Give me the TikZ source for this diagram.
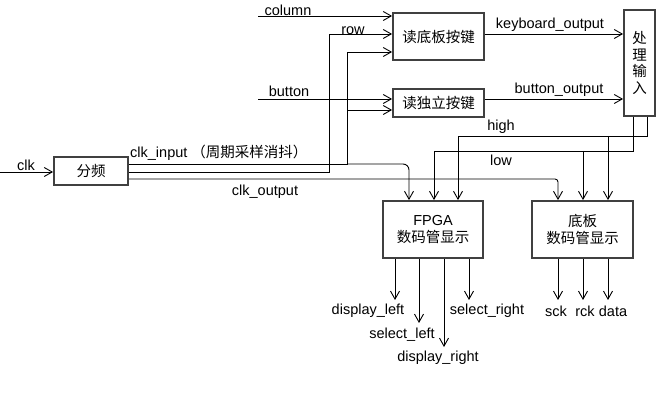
\documentclass[tikz,border=0pt]{standalone}
\usepackage{fontspec}
\setmainfont{Liberation Sans}
\newfontfamily\cjk{Noto Sans CJK SC}
\usetikzlibrary{arrows.meta}
\definecolor{boxc}{RGB}{64,64,64}
\begin{document}
\begin{tikzpicture}[x=1pt,y=-1pt,
  box/.style={draw=boxc, line width=1.8pt, fill=white, inner sep=0pt, align=center,
    font=\cjk\fontsize{14.5}{16.5}\selectfont},
  lbl/.style={inner sep=0pt, font=\fontsize{14.5}{16.5}\selectfont},
  wire/.style={line width=0.9pt, draw=black},
  arr/.style={wire, -{Straight Barb[length=8pt,width=9pt]}}]
\useasboundingbox (0,0) rectangle (658,419);

% boxes
\node[box, minimum width=74pt, minimum height=28pt] (fp) at (91,171) {分频};
\node[box, minimum width=91pt, minimum height=47pt] (kb) at (438.5,36.5) {读底板按键};
\node[box, minimum width=91pt, minimum height=28pt] (bt) at (438.5,103) {读独立按键};
\node[box, minimum width=31pt, minimum height=106pt] (proc) at (639.5,63) {处\\理\\输\\入};
\node[box, minimum width=100pt, minimum height=57pt] (fpga) at (433,229.5) {{\rmfamily FPGA}\\数码管显示};
\node[box, minimum width=101pt, minimum height=57pt] (db) at (582.5,229.5) {底板\\数码管显示};

% free ends
\coordinate (clkin) at (0,172);
\coordinate (colin) at (258,16);
\coordinate (btin) at (258,99);
\coordinate (o1) at (395,300);
\coordinate (o2) at (419,323);
\coordinate (o3) at (444,347);
\coordinate (o4) at (469,300);
\coordinate (o5) at (558,300);
\coordinate (o6) at (583,300);
\coordinate (o7) at (608,300);

% inputs
\draw[arr] (clkin) -- (clkin -| fp.west);
\node[lbl] (lclk) at (26,165) {clk};
\draw[arr] (colin) -- (colin -| kb.west);
\node[lbl] (lcol) at (288,10) {column};
\draw[arr] (btin) -- (btin -| bt.west);
\node[lbl] (lbtn) at (289,91) {button};

% row
\draw[arr] (fp.east |- 0,172) -- (329,172) -- (329,34) [rounded corners=6pt] -- (kb.west |- 0,34);
\node[lbl] (lrow) at (353,31) {row};

% clk_input
\draw[arr] (fp.east |- 0,164) -- (347,164) -- (347,52) [rounded corners=6pt] -- (kb.west |- 0,52);
\draw[arr] (347,110) -- (bt.west |- 0,110);
\draw[arr, rounded corners=6pt] (347,164) -- (409,164) -- (fpga.north -| 409,0);
\node[lbl, anchor=west] (lci) at (130,153) {clk\_input {\cjk （周期采样消抖）}};

% clk_output
\draw[arr, rounded corners=3pt] (fp.east |- 0,179) -- (558,179) -- (db.north -| 558,0);
\node[lbl] (lco) at (265,192) {clk\_output};

% outputs of readers
\draw[arr] (kb.east |- 0,34) -- (proc.west |- 0,34);
\node[lbl] (lko) at (550,25) {keyboard\_output};
\draw[arr] (bt.east |- 0,99) -- (proc.west |- 0,99);
\node[lbl] (lbo) at (559,90) {button\_output};

% high / low
\draw[arr] (proc.south -| 647,0) -- (647,136) -- (458,136) -- (fpga.north -| 458,0);
\draw[arr] (608,136) -- (db.north -| 608,0);
\node[lbl] (lhigh) at (501,127) {high};
\draw[arr] (proc.south -| 633,0) -- (633,151) -- (434,151) -- (fpga.north -| 434,0);
\draw[arr] (583,151) -- (db.north -| 583,0);
\node[lbl] (llow) at (501,160) {low};

% display outputs
\draw[arr] (fpga.south -| o1) -- (o1);
\draw[arr] (fpga.south -| o2) -- (o2);
\draw[arr] (fpga.south -| o3) -- (o3);
\draw[arr] (fpga.south -| o4) -- (o4);
\draw[arr] (db.south -| o5) -- (o5);
\draw[arr] (db.south -| o6) -- (o6);
\draw[arr] (db.south -| o7) -- (o7);
\node[lbl] (l1) at (368,311) {display\_left};
\node[lbl] (l2) at (402,335) {select\_left};
\node[lbl] (l3) at (438,358) {display\_right};
\node[lbl] (l4) at (487,311) {select\_right};
\node[lbl] (l5) at (556,311) {sck};
\node[lbl] (l6) at (585,311) {rck};
\node[lbl] (l7) at (613,311) {data};
\end{tikzpicture}
\end{document}
